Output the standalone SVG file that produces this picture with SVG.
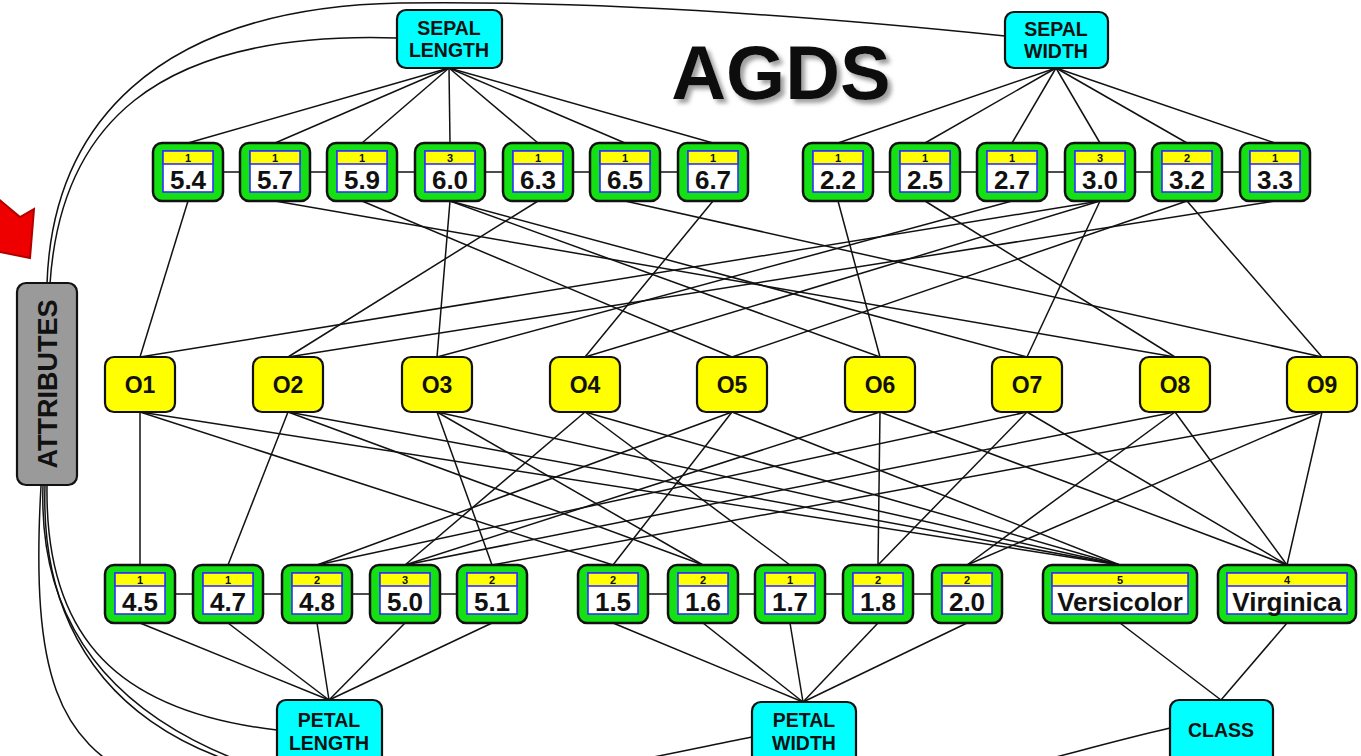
<svg xmlns="http://www.w3.org/2000/svg" width="1361" height="756" viewBox="0 0 1361 756">
  <style>
    .edge { stroke: #111; stroke-width: 1.5; fill: none; }
    .vbox { fill: #14e014; stroke: #111; stroke-width: 2.5; }
    .inner { fill: #fff; stroke: #3030ff; stroke-width: 1.6; }
    .head { fill: #ffff00; stroke: #3030ff; stroke-width: 1.6; }
    .obj { fill: #ffff00; stroke: #111; stroke-width: 2.2; }
    .attr { fill: #00ffff; stroke: #111; stroke-width: 2.2; }
    .gray { fill: #9a9a9a; stroke: #111; stroke-width: 2.2; }
    text { font-family: "Liberation Sans", Arial, sans-serif; font-weight: bold; text-anchor: middle; fill: #111; }
    .cnt { font-size: 11px; }
    .val { font-size: 26px; }
    .oname { font-size: 23px; }
    .aname { font-size: 19.5px; }
  </style>
  <defs>
    <filter id="shadow" x="-10%" y="-20%" width="130%" height="150%">
      <feGaussianBlur in="SourceAlpha" stdDeviation="2"/>
      <feOffset dx="4" dy="4" result="blur"/>
      <feFlood flood-color="#888" flood-opacity="0.8"/>
      <feComposite in2="blur" operator="in"/>
      <feMerge>
        <feMergeNode/>
        <feMergeNode in="SourceGraphic"/>
      </feMerge>
    </filter>
  </defs>

  <!-- pointer arrow at the left border -->
  <polygon points="-30,175 20,217 34,209 30,258 -30,246" fill="#ee0000" stroke="#b00000" stroke-width="2"/>

  <!-- title -->
  <g id="title">
    <text x="781" y="99" font-size="76" fill="#000" filter="url(#shadow)">AGDS</text>
  </g>

  <g id="connectors" class="edge">
    <!-- ATTRIBUTES to attribute nodes -->
    <path d="M47,284 C52,130 150,8 400,3 C620,0 850,20 1005,36"/>
    <path d="M50,284 C60,130 150,30 397,38"/>
    <path d="M47,486 C45,640 120,712 277,730"/>
    <path d="M45,486 C38,700 200,800 450,785 C570,778 660,755 752,737"/>
    <path d="M43,486 C35,720 250,820 650,815 C900,812 1030,760 1170,728"/>
    <path d="M41,486 C30,680 60,740 140,780"/>

    <!-- value chains -->
    <line x1="188" y1="172" x2="713" y2="172"/>
    <line x1="838" y1="172" x2="1275" y2="172"/>
    <line x1="140" y1="594" x2="492" y2="594"/>
    <line x1="613" y1="594" x2="967" y2="594"/>

    <!-- SEPAL LENGTH -->
    <line x1="449" y1="68" x2="188" y2="143"/>
    <line x1="449" y1="68" x2="275" y2="143"/>
    <line x1="449" y1="68" x2="362" y2="143"/>
    <line x1="449" y1="68" x2="450" y2="143"/>
    <line x1="449" y1="68" x2="538" y2="143"/>
    <line x1="449" y1="68" x2="625" y2="143"/>
    <line x1="449" y1="68" x2="713" y2="143"/>
    <!-- SEPAL WIDTH -->
    <line x1="1056" y1="68" x2="838" y2="143"/>
    <line x1="1056" y1="68" x2="925" y2="143"/>
    <line x1="1056" y1="68" x2="1012" y2="143"/>
    <line x1="1056" y1="68" x2="1100" y2="143"/>
    <line x1="1056" y1="68" x2="1187" y2="143"/>
    <line x1="1056" y1="68" x2="1275" y2="143"/>

    <!-- sepal values to objects -->
    <line x1="188" y1="201" x2="140" y2="357"/>
    <line x1="1100" y1="201" x2="140" y2="357"/>
    <line x1="538" y1="201" x2="288" y2="357"/>
    <line x1="1275" y1="201" x2="288" y2="357"/>
    <line x1="450" y1="201" x2="437" y2="357"/>
    <line x1="1012" y1="201" x2="437" y2="357"/>
    <line x1="713" y1="201" x2="585" y2="357"/>
    <line x1="1100" y1="201" x2="585" y2="357"/>
    <line x1="362" y1="201" x2="732" y2="357"/>
    <line x1="1187" y1="201" x2="732" y2="357"/>
    <line x1="450" y1="201" x2="880" y2="357"/>
    <line x1="838" y1="201" x2="880" y2="357"/>
    <line x1="450" y1="201" x2="1027" y2="357"/>
    <line x1="1100" y1="201" x2="1027" y2="357"/>
    <line x1="275" y1="201" x2="1175" y2="357"/>
    <line x1="925" y1="201" x2="1175" y2="357"/>
    <line x1="625" y1="201" x2="1322" y2="357"/>
    <line x1="1187" y1="201" x2="1322" y2="357"/>

    <!-- objects to petal values and classes -->
    <line x1="140" y1="412" x2="140" y2="565"/>
    <line x1="140" y1="412" x2="613" y2="565"/>
    <line x1="140" y1="412" x2="1120" y2="565"/>
    <line x1="288" y1="412" x2="228" y2="565"/>
    <line x1="288" y1="412" x2="703" y2="565"/>
    <line x1="288" y1="412" x2="1120" y2="565"/>
    <line x1="437" y1="412" x2="492" y2="565"/>
    <line x1="437" y1="412" x2="703" y2="565"/>
    <line x1="437" y1="412" x2="1120" y2="565"/>
    <line x1="585" y1="412" x2="405" y2="565"/>
    <line x1="585" y1="412" x2="790" y2="565"/>
    <line x1="585" y1="412" x2="1120" y2="565"/>
    <line x1="732" y1="412" x2="317" y2="565"/>
    <line x1="732" y1="412" x2="613" y2="565"/>
    <line x1="732" y1="412" x2="1120" y2="565"/>
    <line x1="880" y1="412" x2="405" y2="565"/>
    <line x1="880" y1="412" x2="878" y2="565"/>
    <line x1="880" y1="412" x2="1287" y2="565"/>
    <line x1="1027" y1="412" x2="317" y2="565"/>
    <line x1="1027" y1="412" x2="878" y2="565"/>
    <line x1="1027" y1="412" x2="1287" y2="565"/>
    <line x1="1175" y1="412" x2="405" y2="565"/>
    <line x1="1175" y1="412" x2="967" y2="565"/>
    <line x1="1175" y1="412" x2="1287" y2="565"/>
    <line x1="1322" y1="412" x2="492" y2="565"/>
    <line x1="1322" y1="412" x2="967" y2="565"/>
    <line x1="1322" y1="412" x2="1287" y2="565"/>

    <!-- petal values and classes to attribute nodes -->
    <line x1="140" y1="623" x2="329" y2="700"/>
    <line x1="228" y1="623" x2="329" y2="700"/>
    <line x1="317" y1="623" x2="329" y2="700"/>
    <line x1="405" y1="623" x2="329" y2="700"/>
    <line x1="492" y1="623" x2="329" y2="700"/>
    <line x1="613" y1="623" x2="803" y2="702"/>
    <line x1="703" y1="623" x2="803" y2="702"/>
    <line x1="790" y1="623" x2="803" y2="702"/>
    <line x1="878" y1="623" x2="803" y2="702"/>
    <line x1="967" y1="623" x2="803" y2="702"/>
    <line x1="1120" y1="623" x2="1221" y2="700"/>
    <line x1="1287" y1="623" x2="1221" y2="700"/>
  </g>

  <!-- attribute nodes -->
  <g id="attributes">
    <rect class="gray" x="17" y="283" width="60" height="202" rx="9"/>
    <text x="0" y="0" font-size="27" fill="#333" transform="translate(57,384) rotate(-90)">ATTRIBUTES</text>
  </g>
  <g id="sepal-length">
    <rect class="attr" x="397" y="10" width="105" height="58" rx="9"/>
    <text class="aname" x="449" y="35">SEPAL</text>
    <text class="aname" x="449" y="57">LENGTH</text>
  </g>
  <g id="sepal-width">
    <rect class="attr" x="1005" y="12" width="103" height="56" rx="9"/>
    <text class="aname" x="1056" y="36">SEPAL</text>
    <text class="aname" x="1056" y="58">WIDTH</text>
  </g>
  <g id="petal-length">
    <rect class="attr" x="277" y="700" width="105" height="64" rx="9"/>
    <text class="aname" x="329" y="727">PETAL</text>
    <text class="aname" x="329" y="750">LENGTH</text>
  </g>
  <g id="petal-width">
    <rect class="attr" x="752" y="702" width="104" height="62" rx="9"/>
    <text class="aname" x="804" y="727">PETAL</text>
    <text class="aname" x="804" y="750">WIDTH</text>
  </g>
  <g id="class">
    <rect class="attr" x="1170" y="700" width="103" height="64" rx="9"/>
    <text class="aname" x="1221" y="737">CLASS</text>
  </g>

  <!-- sepal length values -->
  <g id="sl-5.4" transform="translate(153,143)"><rect class="vbox" width="70" height="58" rx="9"/><rect class="inner" x="10" y="8" width="50" height="41"/><rect class="head" x="10" y="8" width="50" height="13"/><text class="cnt" x="35" y="19">1</text><text class="val" x="35" y="46">5.4</text></g>
  <g id="sl-5.7" transform="translate(240,143)"><rect class="vbox" width="70" height="58" rx="9"/><rect class="inner" x="10" y="8" width="50" height="41"/><rect class="head" x="10" y="8" width="50" height="13"/><text class="cnt" x="35" y="19">1</text><text class="val" x="35" y="46">5.7</text></g>
  <g id="sl-5.9" transform="translate(327,143)"><rect class="vbox" width="70" height="58" rx="9"/><rect class="inner" x="10" y="8" width="50" height="41"/><rect class="head" x="10" y="8" width="50" height="13"/><text class="cnt" x="35" y="19">1</text><text class="val" x="35" y="46">5.9</text></g>
  <g id="sl-6.0" transform="translate(415,143)"><rect class="vbox" width="70" height="58" rx="9"/><rect class="inner" x="10" y="8" width="50" height="41"/><rect class="head" x="10" y="8" width="50" height="13"/><text class="cnt" x="35" y="19">3</text><text class="val" x="35" y="46">6.0</text></g>
  <g id="sl-6.3" transform="translate(503,143)"><rect class="vbox" width="70" height="58" rx="9"/><rect class="inner" x="10" y="8" width="50" height="41"/><rect class="head" x="10" y="8" width="50" height="13"/><text class="cnt" x="35" y="19">1</text><text class="val" x="35" y="46">6.3</text></g>
  <g id="sl-6.5" transform="translate(590,143)"><rect class="vbox" width="70" height="58" rx="9"/><rect class="inner" x="10" y="8" width="50" height="41"/><rect class="head" x="10" y="8" width="50" height="13"/><text class="cnt" x="35" y="19">1</text><text class="val" x="35" y="46">6.5</text></g>
  <g id="sl-6.7" transform="translate(678,143)"><rect class="vbox" width="70" height="58" rx="9"/><rect class="inner" x="10" y="8" width="50" height="41"/><rect class="head" x="10" y="8" width="50" height="13"/><text class="cnt" x="35" y="19">1</text><text class="val" x="35" y="46">6.7</text></g>

  <!-- sepal width values -->
  <g id="sw-2.2" transform="translate(803,143)"><rect class="vbox" width="70" height="58" rx="9"/><rect class="inner" x="10" y="8" width="50" height="41"/><rect class="head" x="10" y="8" width="50" height="13"/><text class="cnt" x="35" y="19">1</text><text class="val" x="35" y="46">2.2</text></g>
  <g id="sw-2.5" transform="translate(890,143)"><rect class="vbox" width="70" height="58" rx="9"/><rect class="inner" x="10" y="8" width="50" height="41"/><rect class="head" x="10" y="8" width="50" height="13"/><text class="cnt" x="35" y="19">1</text><text class="val" x="35" y="46">2.5</text></g>
  <g id="sw-2.7" transform="translate(977,143)"><rect class="vbox" width="70" height="58" rx="9"/><rect class="inner" x="10" y="8" width="50" height="41"/><rect class="head" x="10" y="8" width="50" height="13"/><text class="cnt" x="35" y="19">1</text><text class="val" x="35" y="46">2.7</text></g>
  <g id="sw-3.0" transform="translate(1065,143)"><rect class="vbox" width="70" height="58" rx="9"/><rect class="inner" x="10" y="8" width="50" height="41"/><rect class="head" x="10" y="8" width="50" height="13"/><text class="cnt" x="35" y="19">3</text><text class="val" x="35" y="46">3.0</text></g>
  <g id="sw-3.2" transform="translate(1152,143)"><rect class="vbox" width="70" height="58" rx="9"/><rect class="inner" x="10" y="8" width="50" height="41"/><rect class="head" x="10" y="8" width="50" height="13"/><text class="cnt" x="35" y="19">2</text><text class="val" x="35" y="46">3.2</text></g>
  <g id="sw-3.3" transform="translate(1240,143)"><rect class="vbox" width="70" height="58" rx="9"/><rect class="inner" x="10" y="8" width="50" height="41"/><rect class="head" x="10" y="8" width="50" height="13"/><text class="cnt" x="35" y="19">1</text><text class="val" x="35" y="46">3.3</text></g>

  <!-- objects -->
  <g id="o1"><rect class="obj" x="105" y="357" width="70" height="55" rx="9"/><text class="oname" x="140" y="393">O1</text></g>
  <g id="o2"><rect class="obj" x="253" y="357" width="70" height="55" rx="9"/><text class="oname" x="288" y="393">O2</text></g>
  <g id="o3"><rect class="obj" x="402" y="357" width="70" height="55" rx="9"/><text class="oname" x="437" y="393">O3</text></g>
  <g id="o4"><rect class="obj" x="550" y="357" width="70" height="55" rx="9"/><text class="oname" x="585" y="393">O4</text></g>
  <g id="o5"><rect class="obj" x="697" y="357" width="70" height="55" rx="9"/><text class="oname" x="732" y="393">O5</text></g>
  <g id="o6"><rect class="obj" x="845" y="357" width="70" height="55" rx="9"/><text class="oname" x="880" y="393">O6</text></g>
  <g id="o7"><rect class="obj" x="992" y="357" width="70" height="55" rx="9"/><text class="oname" x="1027" y="393">O7</text></g>
  <g id="o8"><rect class="obj" x="1140" y="357" width="70" height="55" rx="9"/><text class="oname" x="1175" y="393">O8</text></g>
  <g id="o9"><rect class="obj" x="1287" y="357" width="70" height="55" rx="9"/><text class="oname" x="1322" y="393">O9</text></g>

  <!-- petal length values -->
  <g id="pl-4.5" transform="translate(105,565)"><rect class="vbox" width="70" height="58" rx="9"/><rect class="inner" x="10" y="8" width="50" height="41"/><rect class="head" x="10" y="8" width="50" height="13"/><text class="cnt" x="35" y="19">1</text><text class="val" x="35" y="46">4.5</text></g>
  <g id="pl-4.7" transform="translate(193,565)"><rect class="vbox" width="70" height="58" rx="9"/><rect class="inner" x="10" y="8" width="50" height="41"/><rect class="head" x="10" y="8" width="50" height="13"/><text class="cnt" x="35" y="19">1</text><text class="val" x="35" y="46">4.7</text></g>
  <g id="pl-4.8" transform="translate(282,565)"><rect class="vbox" width="70" height="58" rx="9"/><rect class="inner" x="10" y="8" width="50" height="41"/><rect class="head" x="10" y="8" width="50" height="13"/><text class="cnt" x="35" y="19">2</text><text class="val" x="35" y="46">4.8</text></g>
  <g id="pl-5.0" transform="translate(370,565)"><rect class="vbox" width="70" height="58" rx="9"/><rect class="inner" x="10" y="8" width="50" height="41"/><rect class="head" x="10" y="8" width="50" height="13"/><text class="cnt" x="35" y="19">3</text><text class="val" x="35" y="46">5.0</text></g>
  <g id="pl-5.1" transform="translate(457,565)"><rect class="vbox" width="70" height="58" rx="9"/><rect class="inner" x="10" y="8" width="50" height="41"/><rect class="head" x="10" y="8" width="50" height="13"/><text class="cnt" x="35" y="19">2</text><text class="val" x="35" y="46">5.1</text></g>

  <!-- petal width values -->
  <g id="pw-1.5" transform="translate(578,565)"><rect class="vbox" width="70" height="58" rx="9"/><rect class="inner" x="10" y="8" width="50" height="41"/><rect class="head" x="10" y="8" width="50" height="13"/><text class="cnt" x="35" y="19">2</text><text class="val" x="35" y="46">1.5</text></g>
  <g id="pw-1.6" transform="translate(668,565)"><rect class="vbox" width="70" height="58" rx="9"/><rect class="inner" x="10" y="8" width="50" height="41"/><rect class="head" x="10" y="8" width="50" height="13"/><text class="cnt" x="35" y="19">2</text><text class="val" x="35" y="46">1.6</text></g>
  <g id="pw-1.7" transform="translate(755,565)"><rect class="vbox" width="70" height="58" rx="9"/><rect class="inner" x="10" y="8" width="50" height="41"/><rect class="head" x="10" y="8" width="50" height="13"/><text class="cnt" x="35" y="19">1</text><text class="val" x="35" y="46">1.7</text></g>
  <g id="pw-1.8" transform="translate(843,565)"><rect class="vbox" width="70" height="58" rx="9"/><rect class="inner" x="10" y="8" width="50" height="41"/><rect class="head" x="10" y="8" width="50" height="13"/><text class="cnt" x="35" y="19">2</text><text class="val" x="35" y="46">1.8</text></g>
  <g id="pw-2.0" transform="translate(932,565)"><rect class="vbox" width="70" height="58" rx="9"/><rect class="inner" x="10" y="8" width="50" height="41"/><rect class="head" x="10" y="8" width="50" height="13"/><text class="cnt" x="35" y="19">2</text><text class="val" x="35" y="46">2.0</text></g>

  <!-- class values -->
  <g id="cl-versicolor" transform="translate(1043,565)"><rect class="vbox" width="154" height="58" rx="9"/><rect class="inner" x="9" y="8" width="136" height="41"/><rect class="head" x="9" y="8" width="136" height="13"/><text class="cnt" x="77" y="19">5</text><text class="val" x="77" y="46" font-size="26">Versicolor</text></g>
  <g id="cl-virginica" transform="translate(1218,565)"><rect class="vbox" width="138" height="58" rx="9"/><rect class="inner" x="9" y="8" width="120" height="41"/><rect class="head" x="9" y="8" width="120" height="13"/><text class="cnt" x="69" y="19">4</text><text class="val" x="69" y="46" font-size="26">Virginica</text></g>
</svg>
